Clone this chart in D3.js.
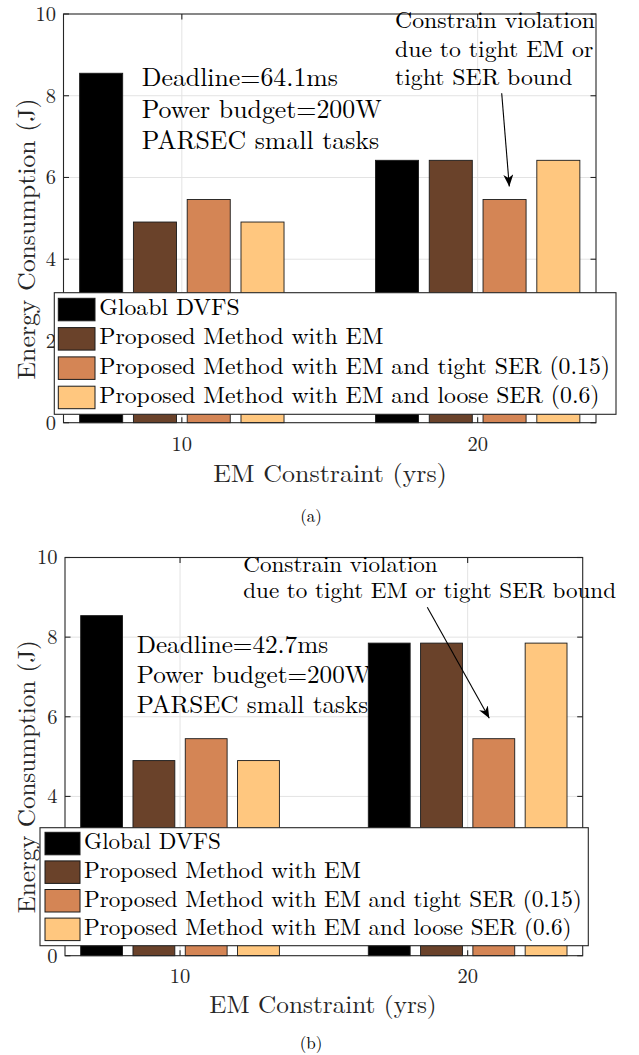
<!DOCTYPE html>
<html>
<head>
<meta charset="utf-8">
<script src="https://cdn.jsdelivr.net/npm/d3@7/dist/d3.min.js"></script>
<style>
  html, body { margin: 0; padding: 0; background: #fff; }
  svg { display: block; }
</style>
</head>
<body>
<svg id="fig" width="639" height="1055"></svg>
<script>
// ---- data ----
const groups = [10, 20];                       // EM constraint (yrs)
const xTicks = [10, 20];
const yTicks = [0, 2, 4, 6, 8, 10];
const seriesColors = ["#000000", "#6A422A", "#D48555", "#FFC77F"];

const seriesNamesA = [
  "Gloabl DVFS",
  "Proposed Method with EM",
  "Proposed Method with EM and tight SER (0.15)",
  "Proposed Method with EM and loose SER (0.6)"
];
const seriesNamesB = [
  "Global DVFS",
  "Proposed Method with EM",
  "Proposed Method with EM and tight SER (0.15)",
  "Proposed Method with EM and loose SER (0.6)"
];
// energy (J) per series, one value per EM constraint group
const energyA = [
  [8.55, 6.42],
  [4.91, 6.42],
  [5.46, 5.46],
  [4.91, 6.42]
];
const energyB = [
  [8.54, 7.85],
  [4.90, 7.85],
  [5.45, 5.45],
  [4.90, 7.85]
];
const infoA = ["Deadline=64.1ms", "Power budget=200W", "PARSEC small tasks"];
const infoB = ["Deadline=42.7ms", "Power budget=200W", "PARSEC small tasks"];
const noteA = ["Constrain violation", "due to tight EM or", "tight SER bound"];
const noteB = ["Constrain violation", "due to tight EM or tight SER bound"];

const xLabel = "EM Constraint (yrs)";
const yLabel = "Energy Consumption (J)";

// ---- font selection: first installed serif face, else a sans face ----
const serifCandidates = ["Latin Modern Roman", "CMU Serif", "Liberation Serif", "DejaVu Serif",
  "Tinos", "Nimbus Roman", "Nimbus Roman No9 L", "FreeSerif", "Noto Serif", "Times New Roman", "Times"];
function installed(name) {
  const c = document.createElement("canvas").getContext("2d");
  const probe = "mmmmmmmmmwwwwwllliiiMQ0123";
  return ["monospace", "sans-serif"].some(base => {
    c.font = "40px " + base;
    const w0 = c.measureText(probe).width;
    c.font = `40px "${name}", ${base}`;
    return c.measureText(probe).width !== w0;
  });
}
const serifFace = serifCandidates.find(installed);
const FONT = serifFace ? `"${serifFace}", serif` : `"Liberation Sans", "DejaVu Sans", sans-serif`;
const FS = serifFace ? 1 : 0.92;   // sans faces have taller capitals

// ---- drawing ----
const AXIS = "#262626";
const GRID = "#e3e3e3";
const svg = d3.select("#fig").attr("font-family", FONT);
svg.append("rect").attr("width", 639).attr("height", 1055).attr("fill", "#fff");

const defs = svg.append("defs");
defs.append("marker")
  .attr("id", "head").attr("viewBox", "0 0 12 10")
  .attr("refX", 12).attr("refY", 5)
  .attr("markerWidth", 12).attr("markerHeight", 10)
  .attr("markerUnits", "userSpaceOnUse")
  .attr("orient", "auto")
  .append("path").attr("d", "M0,0 L12,5 L0,10 L3.5,5 Z").attr("fill", "#000");

function stretchTo(sel, w) {
  sel.attr("textLength", w).attr("lengthAdjust", "spacingAndGlyphs");
}
function stretchBy(sel, k) {
  sel.each(function () {
    const n = this.getComputedTextLength();
    d3.select(this).attr("textLength", n * k).attr("lengthAdjust", "spacingAndGlyphs");
  });
}

function panel(cfg) {
  const g = svg.append("g");
  const x = d3.scaleLinear().domain([6, 24]).range([cfg.left, cfg.right]);
  const y = d3.scaleLinear().domain([0, 10]).range([cfg.bottom, cfg.top]);
  const barStep = 1.818, barW = 1.455;   // grouped-bar spacing in x units

  // grid
  g.append("g").selectAll("line").data(yTicks.slice(1, -1)).join("line")
    .attr("x1", cfg.left).attr("x2", cfg.right)
    .attr("y1", d => y(d)).attr("y2", d => y(d))
    .attr("stroke", GRID).attr("stroke-width", 1);
  g.append("g").selectAll("line").data(xTicks).join("line")
    .attr("y1", cfg.top).attr("y2", cfg.bottom)
    .attr("x1", d => x(d)).attr("x2", d => x(d))
    .attr("stroke", GRID).attr("stroke-width", 1);

  // info text (drawn under the bars)
  const info = g.append("g").attr("font-size", cfg.infoSize * FS).attr("fill", "#000");
  const infoT = info.selectAll("text").data(cfg.info).join("text")
    .attr("x", cfg.infoX).attr("y", (d, i) => cfg.infoY + i * cfg.infoStep).text(d => d);
  const kInfo = cfg.infoW / infoT.nodes()[1].getComputedTextLength();
  stretchBy(infoT, kInfo);

  // bars
  const barData = [];
  cfg.values.forEach((vals, s) => vals.forEach((v, j) => barData.push({ s, j, v })));
  g.append("g").selectAll("rect").data(barData).join("rect")
    .attr("x", d => x(groups[d.j] + (d.s - 1.5) * barStep - barW / 2))
    .attr("width", x(barW) - x(0))
    .attr("y", d => y(d.v))
    .attr("height", d => y(0) - y(d.v))
    .attr("fill", d => seriesColors[d.s])
    .attr("stroke", "#1a1a1a").attr("stroke-width", 0.9);

  // axes box with inward ticks
  const ax = g.append("g").attr("stroke", AXIS).attr("stroke-width", 1.1).attr("fill", "none");
  ax.append("rect").attr("x", cfg.left).attr("y", cfg.top)
    .attr("width", cfg.right - cfg.left).attr("height", cfg.bottom - cfg.top);
  const tl = 5.5;
  yTicks.forEach(t => {
    ax.append("line").attr("x1", cfg.left).attr("x2", cfg.left + tl).attr("y1", y(t)).attr("y2", y(t));
    ax.append("line").attr("x1", cfg.right).attr("x2", cfg.right - tl).attr("y1", y(t)).attr("y2", y(t));
  });
  xTicks.forEach(t => {
    ax.append("line").attr("y1", cfg.bottom).attr("y2", cfg.bottom - tl).attr("x1", x(t)).attr("x2", x(t));
    ax.append("line").attr("y1", cfg.top).attr("y2", cfg.top + tl).attr("x1", x(t)).attr("x2", x(t));
  });

  // tick labels
  const tk = g.append("g").attr("font-size", cfg.tickSize * FS).attr("fill", AXIS);
  tk.selectAll("text.yt").data(yTicks).join("text").attr("class", "yt")
    .attr("x", cfg.left - 7.5).attr("y", d => y(d) + cfg.tickSize * 0.34)
    .attr("text-anchor", "end").text(d => d);
  tk.selectAll("text.xt").data(xTicks).join("text").attr("class", "xt")
    .attr("x", d => x(d)).attr("y", cfg.xTickY)
    .attr("text-anchor", "middle").text(d => d);

  // axis labels
  const xl = g.append("text").attr("font-size", cfg.labelSize * FS).attr("fill", AXIS)
    .attr("x", cfg.xLabelX).attr("y", cfg.xLabelY).attr("text-anchor", "middle").text(xLabel);
  stretchTo(xl, cfg.xLabelW);
  const yl = g.append("text").attr("font-size", cfg.labelSize * FS).attr("fill", AXIS)
    .attr("transform", `translate(${cfg.yLabelX},${cfg.yLabelY}) rotate(-90)`)
    .attr("text-anchor", "middle").text(yLabel);
  stretchTo(yl, cfg.yLabelW);

  // violation note + arrow
  const note = g.append("g").attr("font-size", cfg.noteSize * FS).attr("fill", "#000");
  const noteT = note.selectAll("text").data(cfg.note).join("text")
    .attr("x", cfg.noteX).attr("y", (d, i) => cfg.noteY + i * cfg.noteStep).text(d => d);
  const kNote = cfg.noteW / noteT.nodes()[cfg.noteRef].getComputedTextLength();
  stretchBy(noteT, kNote);
  g.append("line")
    .attr("x1", cfg.arrow[0]).attr("y1", cfg.arrow[1])
    .attr("x2", cfg.arrow[2]).attr("y2", cfg.arrow[3])
    .attr("stroke", "#000").attr("stroke-width", 1.1)
    .attr("marker-end", "url(#head)");

  // legend
  const lg = g.append("g");
  lg.append("rect").attr("x", cfg.lgX).attr("y", cfg.lgY)
    .attr("width", cfg.lgW).attr("height", cfg.lgH)
    .attr("fill", "#fff").attr("stroke", AXIS).attr("stroke-width", 1.1);
  lg.selectAll("rect.sw").data(cfg.names).join("rect").attr("class", "sw")
    .attr("x", cfg.swX).attr("y", (d, i) => cfg.swY + i * cfg.lgStep)
    .attr("width", cfg.swW).attr("height", cfg.swH)
    .attr("fill", (d, i) => seriesColors[i])
    .attr("stroke", "#1a1a1a").attr("stroke-width", 1);
  const lgT = lg.selectAll("text").data(cfg.names).join("text")
    .attr("font-size", cfg.lgSize * FS).attr("fill", "#000")
    .attr("x", cfg.lgTextX).attr("y", (d, i) => cfg.lgTextY + i * cfg.lgStep).text(d => d);
  const kLg = cfg.lgLongW / lgT.nodes()[2].getComputedTextLength();
  stretchBy(lgT, kLg);

  // caption
  g.append("text").attr("font-size", 17 * FS).attr("fill", "#000")
    .attr("x", cfg.capX).attr("y", cfg.capY).attr("text-anchor", "middle").text(cfg.caption);
}

panel({
  left: 63.5, right: 596, top: 14, bottom: 422.7,
  values: energyA, names: seriesNamesA, info: infoA, note: noteA, caption: "(a)",
  tickSize: 20.5, xTickY: 450.7,
  labelSize: 25, xLabelX: 330, xLabelY: 481.7, xLabelW: 233.7,
  yLabelX: 35, yLabelY: 239, yLabelW: 281,
  infoSize: 26, infoX: 141.7, infoY: 86, infoStep: 31.7, infoW: 240,
  noteSize: 23.5, noteX: 395, noteY: 28.3, noteStep: 28.3, noteW: 200, noteRef: 0,
  arrow: [501.7, 93.3, 509.3, 186.5],
  lgX: 54.3, lgY: 292.7, lgW: 561.7, lgH: 121.6,
  swX: 58.3, swY: 298.3, swW: 36.7, swH: 22.5, lgStep: 29.3,
  lgSize: 23.5, lgTextX: 99.3, lgTextY: 315, lgLongW: 510.7,
  capX: 311, capY: 522
});

panel({
  left: 65, right: 582.7, top: 557.5, bottom: 955.7,
  values: energyB, names: seriesNamesB, info: infoB, note: noteB, caption: "(b)",
  tickSize: 20.5, xTickY: 983.3,
  labelSize: 24.5, xLabelX: 323, xLabelY: 1013.3, xLabelW: 227.4,
  yLabelX: 35, yLabelY: 776.7, yLabelW: 273,
  infoSize: 25, infoX: 136.7, infoY: 653.3, infoStep: 30, infoW: 234,
  noteSize: 22, noteX: 243.3, noteY: 571.7, noteStep: 26.6, noteW: 372.7, noteRef: 1,
  arrow: [427.3, 607.3, 489.3, 718.3],
  lgX: 40, lgY: 827.7, lgW: 548.3, lgH: 118,
  swX: 45, swY: 832.3, swW: 35, swH: 22.5, lgStep: 28.6,
  lgSize: 23, lgTextX: 84, lgTextY: 849.3, lgLongW: 497.7,
  capX: 311, capY: 1049
});
</script>
</body>
</html>
